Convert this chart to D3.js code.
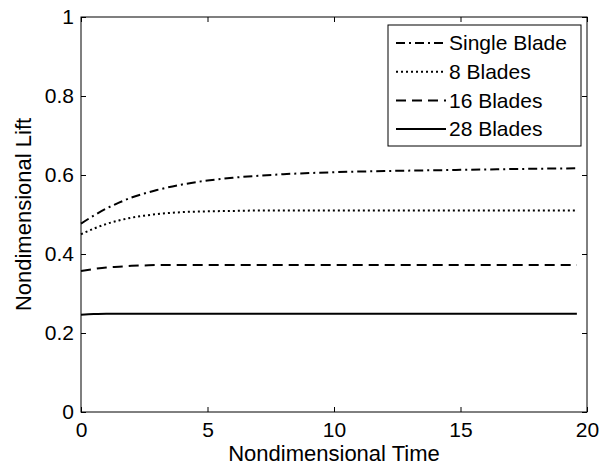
<!DOCTYPE html>
<html>
<head>
<meta charset="utf-8">
<style>
  body { margin: 0; background: #fff; }
  text { font-family: "Liberation Sans", Arial, sans-serif; fill: #000; }
  .axis path, .axis line { stroke: #000; }
</style>
</head>
<body>
<svg width="612" height="469"></svg>
<script src="https://d3js.org/d3.v7.min.js"></script>
<script>
// time samples
var time = [0, 0.5, 1, 1.5, 2, 2.5, 3, 4, 5, 6, 7, 8, 10, 12, 15, 17, 19.6];
var singleBlade = [0.477, 0.497, 0.515, 0.530, 0.543, 0.553, 0.562, 0.576, 0.586, 0.593, 0.598, 0.602, 0.607, 0.610, 0.613, 0.615, 0.617];
var blades8 = [0.450, 0.464, 0.476, 0.485, 0.492, 0.497, 0.501, 0.506, 0.508, 0.509, 0.510, 0.510, 0.510, 0.510, 0.510, 0.510, 0.510];
var blades16 = [0.357, 0.362, 0.366, 0.368, 0.370, 0.371, 0.372, 0.372, 0.372, 0.372, 0.372, 0.372, 0.372, 0.372, 0.372, 0.372, 0.372];
var blades28 = [0.246, 0.248, 0.249, 0.249, 0.249, 0.249, 0.249, 0.249, 0.249, 0.249, 0.249, 0.249, 0.249, 0.249, 0.249, 0.249, 0.249];
var names = ["Single Blade", "8 Blades", "16 Blades", "28 Blades"];
var xTicks = [0, 5, 10, 15, 20];
var yTicks = [0, 0.2, 0.4, 0.6, 0.8, 1];

var series = [
  {name: names[0], values: singleBlade, dash: "9,4,2,4"},
  {name: names[1], values: blades8, dash: "2,3"},
  {name: names[2], values: blades16, dash: "10,6"},
  {name: names[3], values: blades28, dash: null}
];

var svg = d3.select("svg");
var mLeft = 81, mTop = 17, mRight = 587, mBottom = 412;

var x = d3.scaleLinear().domain([0, 20]).range([mLeft, mRight]);
var y = d3.scaleLinear().domain([0, 1]).range([mBottom, mTop]);

// box
svg.append("rect")
    .attr("x", mLeft).attr("y", mTop)
    .attr("width", mRight - mLeft).attr("height", mBottom - mTop)
    .attr("fill", "none").attr("stroke", "#000").attr("stroke-width", 1);

// axes (inward ticks)
var fmt = function(d) { return d3.format("")(d); };
svg.append("g").attr("class", "axis")
    .attr("transform", "translate(0," + mBottom + ")")
    .call(d3.axisBottom(x).tickValues(xTicks).tickSizeInner(-5).tickSizeOuter(0).tickPadding(10).tickFormat(fmt))
    .call(function(g) { g.select(".domain").remove(); g.selectAll("text").attr("font-size", 21); });
svg.append("g").attr("class", "axis")
    .attr("transform", "translate(" + mLeft + ",0)")
    .call(d3.axisLeft(y).tickValues(yTicks).tickSizeInner(-5).tickSizeOuter(0).tickPadding(7).tickFormat(fmt))
    .call(function(g) { g.select(".domain").remove(); g.selectAll("text").attr("font-size", 21); });
svg.append("g").attr("class", "axis")
    .attr("transform", "translate(0," + mTop + ")")
    .call(d3.axisTop(x).tickValues(xTicks).tickSizeInner(-5).tickSizeOuter(0).tickFormat(""))
    .call(function(g) { g.select(".domain").remove(); });
svg.append("g").attr("class", "axis")
    .attr("transform", "translate(" + mRight + ",0)")
    .call(d3.axisRight(y).tickValues(yTicks).tickSizeInner(-5).tickSizeOuter(0).tickFormat(""))
    .call(function(g) { g.select(".domain").remove(); });

// labels
svg.append("text")
    .attr("x", (mLeft + mRight) / 2).attr("y", 461)
    .attr("text-anchor", "middle").attr("font-size", 22)
    .text("Nondimensional Time");
svg.append("text")
    .attr("transform", "translate(31," + ((mTop + mBottom) / 2) + ") rotate(-90)")
    .attr("text-anchor", "middle").attr("font-size", 22)
    .text("Nondimensional Lift");

// lines
var line = d3.line()
    .x(function(d, i) { return x(time[i]); })
    .y(function(d) { return y(d); })
    .curve(d3.curveMonotoneX);

svg.selectAll(".series")
  .data(series)
  .enter().append("path")
    .attr("class", "series")
    .attr("d", function(d) { return line(d.values); })
    .attr("fill", "none")
    .attr("stroke", "#000")
    .attr("stroke-width", 2)
    .attr("stroke-dasharray", function(d) { return d.dash; });

// legend
var lg = svg.append("g");
lg.append("rect")
    .attr("x", 388).attr("y", 25).attr("width", 193).attr("height", 121)
    .attr("fill", "#fff").attr("stroke", "#000").attr("stroke-width", 1);
var item = lg.selectAll(".item").data(series).enter().append("g")
    .attr("transform", function(d, i) { return "translate(0," + (43 + i * 28.7) + ")"; });
item.append("line")
    .attr("x1", 396).attr("x2", 446)
    .attr("stroke", "#000").attr("stroke-width", 2)
    .attr("stroke-dasharray", function(d) { return d.dash; });
item.append("text")
    .attr("x", 449).attr("dy", "0.35em").attr("font-size", 21)
    .text(function(d) { return d.name; });
</script>
</body>
</html>
